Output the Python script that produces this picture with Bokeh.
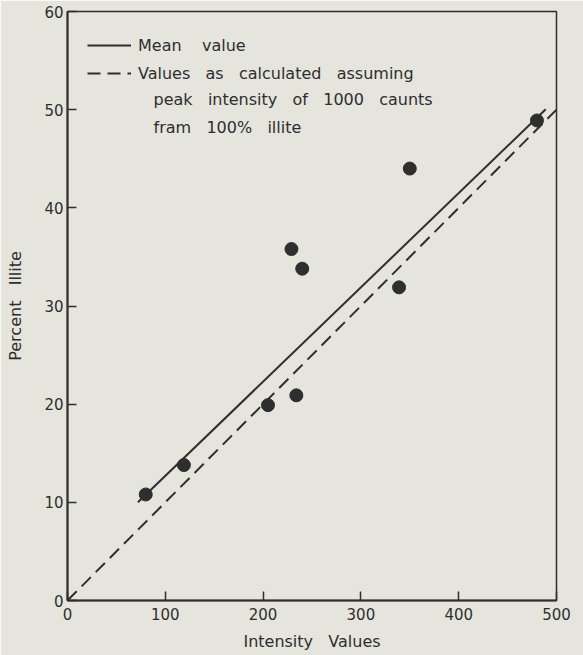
from bokeh.plotting import figure
from bokeh.models import Range1d, FixedTicker, Legend, LegendItem, Label
from bokeh.embed import file_html
from bokeh.resources import INLINE

# ---- data ----
intensity = [80, 119, 205, 229, 234, 240, 339, 350, 480]
illite = [10.8, 13.8, 19.9, 35.8, 20.9, 33.8, 31.9, 44.0, 48.9]

mean_x = [72, 489]
mean_y = [10.0, 50.05]

calc_x = [0, 500]
calc_y = [0, 50]

x_ticks = [0, 100, 200, 300, 400, 500]
y_ticks = [0, 10, 20, 30, 40, 50, 60]

NB = "\u00a0\u00a0 "
legend_labels = ["Mean    value", "Values   as   calculated   assuming"]
legend_extra = [NB.join(["peak", "intensity", "of", "1000", "caunts"]),
                NB.join(["fram", "100%", "illite"])]
x_label = NB.join(["Intensity", "Values"])
y_label = NB.join(["Percent", "Illite"])

BG = "#e5e5dd"
INK = "#2e2e2e"
FONT = "DejaVu Sans"

p = figure(width=583, height=655, output_backend="svg", toolbar_location=None,
           x_range=Range1d(0, 500), y_range=Range1d(0, 60),
           min_border_left=67, min_border_right=27, min_border_top=11, min_border_bottom=55)
p.background_fill_color = BG
p.border_fill_color = BG
p.outline_line_color = INK
p.outline_line_width = 1.5
p.xgrid.visible = False
p.ygrid.visible = False

for ax, ticks in ((p.xaxis[0], x_ticks), (p.yaxis[0], y_ticks)):
    ax.ticker = FixedTicker(ticks=ticks)
    ax.axis_line_color = INK
    ax.axis_line_width = 2
    ax.major_tick_in = 9
    ax.major_tick_out = 0
    ax.major_tick_line_color = INK
    ax.major_tick_line_width = 1.5
    ax.minor_tick_line_color = None
    ax.major_label_text_font = FONT
    ax.major_label_text_font_size = "15px"
    ax.major_label_text_color = INK
    ax.axis_label_text_font = FONT
    ax.axis_label_text_font_size = "16px"
    ax.axis_label_text_font_style = "normal"
    ax.axis_label_text_color = INK

p.xaxis.axis_label = x_label
p.xaxis.major_label_standoff = 7
p.xaxis.axis_label_standoff = 9
p.yaxis.axis_label = y_label
p.yaxis.major_label_standoff = 4
p.yaxis.axis_label_standoff = 16

r_mean = p.line(mean_x, mean_y, line_color=INK, line_width=2)
r_calc = p.line(calc_x, calc_y, line_color=INK, line_width=2, line_dash="13 7")
p.scatter(intensity, illite, size=13, fill_color=INK, line_color=INK)

legend = Legend(items=[LegendItem(label=legend_labels[0], renderers=[r_mean]),
                       LegendItem(label=legend_labels[1], renderers=[r_calc])],
                location="top_left", margin=10, padding=10, spacing=0,
                glyph_width=44, glyph_height=28, label_height=28, label_standoff=7,
                label_text_font=FONT, label_text_font_size="16px", label_text_color=INK,
                background_fill_alpha=0, border_line_alpha=0)
p.add_layout(legend)

for txt, yy in zip(legend_extra, [51.0, 48.2]):
    p.add_layout(Label(x=88, y=yy, text=txt, text_font=FONT, text_font_size="16px",
                       text_color=INK, text_baseline="middle"))

open("out.html", "w").write(file_html(p, INLINE))
